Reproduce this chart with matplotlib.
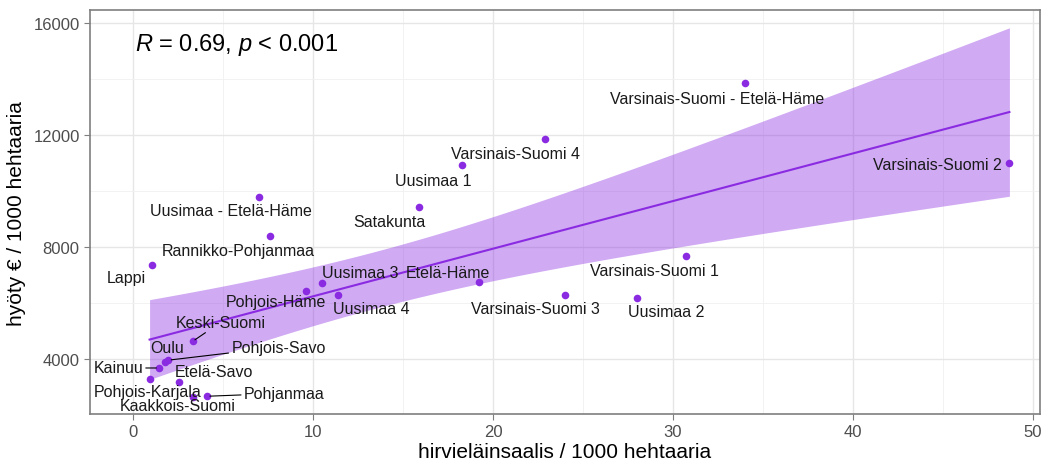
import numpy as np
import matplotlib
matplotlib.use("Agg")
import matplotlib.pyplot as plt
from matplotlib.ticker import MultipleLocator

plt.rcParams['font.family'] = ['Liberation Sans', 'DejaVu Sans']
plt.rcParams['mathtext.fontset'] = 'custom'
plt.rcParams['mathtext.rm'] = 'Liberation Sans'
plt.rcParams['mathtext.it'] = 'Liberation Sans:italic'

# data
regions = ["Varsinais-Suomi - Etelä-Häme", "Varsinais-Suomi 4", "Uusimaa 1", "Satakunta",
           "Varsinais-Suomi 2", "Uusimaa - Etelä-Häme", "Rannikko-Pohjanmaa", "Lappi",
           "Varsinais-Suomi 1", "Uusimaa 3", "Etelä-Häme", "Pohjois-Häme", "Uusimaa 4",
           "Varsinais-Suomi 3", "Uusimaa 2", "Keski-Suomi", "Oulu", "Pohjois-Savo",
           "Kainuu", "Etelä-Savo", "Pohjois-Karjala", "Kaakkois-Suomi", "Pohjanmaa"]
saalis = [34.0, 22.9, 18.3, 15.9, 48.7, 7.0, 7.6, 1.06, 30.7, 10.5, 19.2, 9.6, 11.4,
          24.0, 28.0, 3.3, 1.78, 1.96, 1.44, 2.52, 0.91, 3.35, 4.11]
hyoty = [13850, 11850, 10930, 9430, 11000, 9790, 8390, 7360, 7680, 6710, 6750, 6430,
         6290, 6290, 6180, 4630, 3880, 3960, 3680, 3170, 3290, 2650, 2670]

# label offsets in pixels (dx right, dy down) and which labels get a leader line
label_dx = [-28, -30, -29, -30, -72, -28, -32, -26, -31, 38, -31, -30, 33,
            -30, 29, 28, 2, 110, -41, 35, -2, -16, 77]
label_dy = [15, 14, 15, 14, 1, 14, 14, 13, 14, -11, -10, 10, 14,
            14, 13, -19, -15, -13, 0, -11, 13, 9, -3]
leader = ["Keski-Suomi", "Pohjois-Savo", "Kainuu", "Pohjanmaa"]

purple = "#8a2be2"
x = np.array(saalis)
y = np.array(hyoty)

# linear fit with 95% confidence band
n = len(x)
b, a = np.polyfit(x, y, 1)
resid = y - (a + b * x)
s = np.sqrt(np.sum(resid ** 2) / (n - 2))
t_crit = 2.080  # t(0.975, df=21)
xs = np.linspace(x.min(), x.max(), 200)
ys = a + b * xs
se = s * np.sqrt(1 / n + (xs - x.mean()) ** 2 / np.sum((x - x.mean()) ** 2))

fig = plt.figure(figsize=(10.47, 4.64), dpi=100)
ax = fig.add_axes([0.086, 0.1056, 0.9073, 0.8704])

ax.fill_between(xs, ys - t_crit * se, ys + t_crit * se, color=purple, alpha=0.4,
                linewidth=0, zorder=2)
ax.plot(xs, ys, color=purple, lw=1.5, zorder=3)
ax.scatter(x, y, s=30, color=purple, zorder=4, linewidths=0)

for name, xi, yi, dx, dy in zip(regions, x, y, label_dx, label_dy):
    props = None
    if name in leader:
        props = dict(arrowstyle="-", color="black", lw=0.8, shrinkA=0, shrinkB=2)
    ax.annotate(name, (xi, yi), xytext=(dx, -dy), textcoords="offset pixels",
                ha="center", va="center", fontsize=11.5, color="#1a1a1a",
                arrowprops=props, zorder=5)

ax.text(0.047, 0.915, r"$R$ = 0.69, $p$ < 0.001", transform=ax.transAxes,
        fontsize=17, ha="left", va="center", color="black")

ax.set_xlim(-2.4, 50.4)
ax.set_ylim(2036, 16464)
ax.xaxis.set_major_locator(MultipleLocator(10))
ax.xaxis.set_minor_locator(MultipleLocator(5))
ax.yaxis.set_major_locator(MultipleLocator(4000))
ax.yaxis.set_minor_locator(MultipleLocator(2000))
ax.grid(which="major", color="#e6e6e6", lw=1.0, zorder=0)
ax.grid(which="minor", color="#f0f0f0", lw=0.6, zorder=0)
ax.set_axisbelow(True)
for sp in ax.spines.values():
    sp.set_color("#7f7f7f")
    sp.set_linewidth(1.2)
ax.tick_params(which="major", colors="#7f7f7f", labelcolor="#4d4d4d", labelsize=12, length=4)
ax.tick_params(which="minor", length=0)

ax.set_xlabel("hirvieläinsaalis / 1000 hehtaaria", fontsize=15, labelpad=2)
ax.set_ylabel("hyöty € / 1000 hehtaaria", fontsize=15, labelpad=5)

fig.savefig("out.png", dpi=100)
